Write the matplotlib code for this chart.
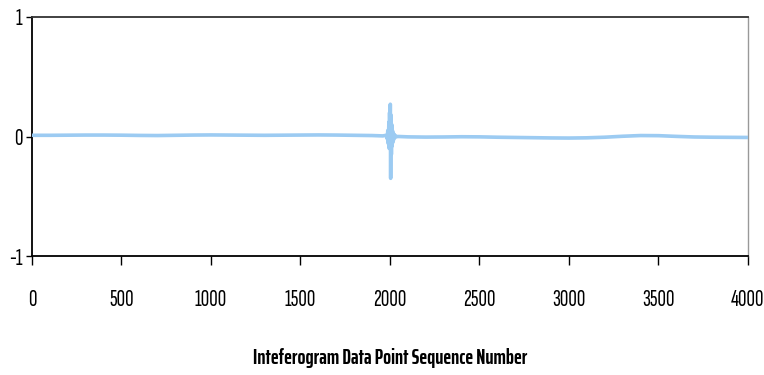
import matplotlib.pyplot as plt

# interferogram samples: flat baseline with a burst around the zero path difference point
base_x = [0, 100, 200, 300, 400, 500, 600, 700, 800, 900, 1000, 1100, 1200, 1300,
          1400, 1500, 1600, 1700, 1800, 1900, 1960, 1980]
base_y = [0.010, 0.010, 0.011, 0.012, 0.012, 0.011, 0.009, 0.008, 0.010, 0.012, 0.013,
          0.012, 0.011, 0.010, 0.011, 0.012, 0.013, 0.012, 0.010, 0.008, 0.005, 0.010]
burst_x = [1985, 1988, 1991, 1994, 1996, 1998, 2000, 2002, 2004, 2006, 2008, 2010,
           2012, 2014, 2016, 2018, 2020, 2022, 2025, 2028, 2032, 2036]
burst_y = [-0.02, 0.05, -0.06, 0.12, -0.10, 0.20, -0.08, 0.27, -0.35, 0.18, -0.15,
           0.10, -0.08, 0.05, -0.05, 0.03, -0.03, 0.02, -0.01, 0.01, -0.005, 0.0]
tail_x = [2050, 2100, 2200, 2300, 2400, 2500, 2600, 2700, 2800, 2900, 3000, 3100,
          3200, 3300, 3400, 3500, 3600, 3700, 3800, 3900, 4000]
tail_y = [0.000, -0.003, -0.005, -0.004, -0.002, -0.003, -0.006, -0.008, -0.010, -0.012,
          -0.013, -0.011, -0.006, 0.002, 0.008, 0.007, 0.001, -0.004, -0.006, -0.007, -0.008]

x = base_x + burst_x + tail_x
y = base_y + burst_y + tail_y

plt.rcParams['font.family'] = ['Sofia Sans Extra Condensed', 'DejaVu Sans']
plt.rcParams['axes.unicode_minus'] = False

fig = plt.figure(figsize=(7.64, 3.75), dpi=100)
ax = fig.add_axes([0.0419, 0.3173, 0.937, 0.6374])

ax.plot(x, y, color='#2a2aa8', lw=1.0, zorder=2)
ax.plot(x, y, color='#9ccbf2', lw=2.6, zorder=3)

ax.set_xlim(0, 4000)
ax.set_ylim(-1, 1)
ax.set_xticks(range(0, 4001, 500))
ax.set_yticks([-1, 0, 1])
ax.tick_params(axis='both', direction='out', width=1, labelsize=17, colors='black')
ax.tick_params(axis='x', length=6.5, pad=17)
ax.tick_params(axis='y', length=4, pad=3)

ax.spines['left'].set_linewidth(1.3)
ax.spines['bottom'].set_linewidth(1.3)
ax.spines['top'].set_linewidth(1.3)
ax.spines['top'].set_color('#333333')
ax.spines['right'].set_color('#999999')
ax.spines['right'].set_linewidth(1.0)

ax.set_xlabel('Inteferogram Data Point Sequence Number', family=['Saira ExtraCondensed', 'DejaVu Sans'],
              fontsize=15, fontweight='bold', labelpad=27)

fig.savefig('out.png', dpi=100)
